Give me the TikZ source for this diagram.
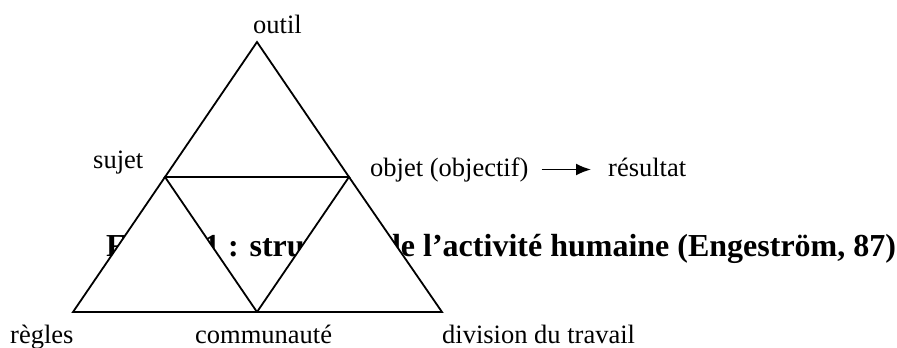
\documentclass[tikz,border=0pt]{standalone}
\usepackage{fontspec}
\setmainfont{Liberation Serif}
\usetikzlibrary{arrows.meta}
\begin{document}
\begin{tikzpicture}[x=1bp,y=-1bp,
  lbl/.style={anchor=base west,inner sep=0pt,font=\fontsize{26.5bp}{30bp}\selectfont},
  captext/.style={anchor=base west,inner sep=0pt,font=\bfseries\fontsize{32bp}{36bp}\selectfont},
  edgeline/.style={line width=1.8bp,line join=miter,line cap=butt},
  subtri/.style={edgeline,fill=white},
  arrowline/.style={line width=1.8bp,-{Latex[length=15bp,width=12bp]}}]
\useasboundingbox (0,0) rectangle (897,347);
\coordinate (O) at (257,42);
\coordinate (S) at (165,177);
\coordinate (B) at (349,177);
\coordinate (R) at (73,312);
\coordinate (C) at (257,312);
\coordinate (D) at (442,312);
\node[captext] (cap) at (106,256.7) {Figure 1 : structure de l’activité humaine (Engeström, 87)};
\draw[subtri] (S) -- (R) -- (C) -- cycle;
\draw[subtri] (B) -- (C) -- (D) -- cycle;
\draw[edgeline] (S) -- (O) -- (B) -- cycle;
\node[lbl] (outil) at (253,33) {outil};
\node[lbl] (sujet) at (93,168) {sujet};
\node[lbl] (objet) at (370,176) {objet (objectif)};
\node[lbl] (resultat) at (608,176) {résultat};
\node[lbl] (regles) at (10,343) {règles};
\node[lbl] (comm) at (195,343) {communauté};
\node[lbl] (div) at (442,343) {division du travail};
\draw[arrowline,shorten <=13bp,shorten >=17bp] (objet.east) -- (objet.east -| resultat.west);
\end{tikzpicture}
\end{document}
